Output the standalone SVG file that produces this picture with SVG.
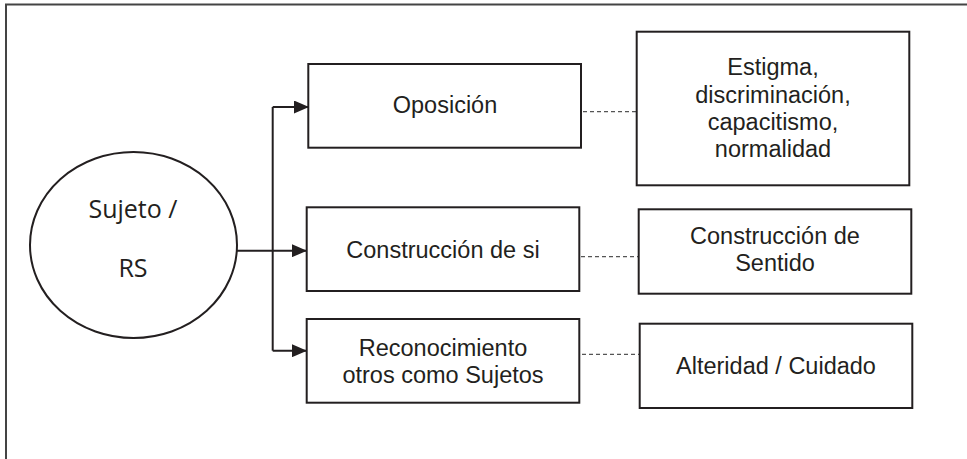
<svg xmlns="http://www.w3.org/2000/svg" width="967" height="459" viewBox="0 0 967 459">
<defs>
<style>
.box{fill:#fff;stroke:#231f20;stroke-width:2}
.t{font-family:"Liberation Sans",Arial,sans-serif;font-size:23.5px;fill:#231f20;text-anchor:middle}
.c{font-family:"Open Sans","Liberation Sans",sans-serif;font-size:25px;fill:#231f20;text-anchor:middle}
.ln{fill:none;stroke:#231f20;stroke-width:2}
.dash{fill:none;stroke:#555;stroke-width:1.2;stroke-dasharray:4 3}
</style>
<marker id="arr" markerWidth="15" markerHeight="13" viewBox="0 0 15 13" refX="15" refY="6.5" orient="auto" markerUnits="userSpaceOnUse">
<path d="M0,0 L15,6.5 L0,13 Z" fill="#231f20"/>
</marker>
</defs>
<rect width="967" height="459" fill="#fff"/>
<path d="M6,459 V4.5 H967" fill="none" stroke="#444" stroke-width="2"/>

<g id="connectors">
<path class="ln" d="M272.7,107 V350.7"/>
<path class="ln" d="M272.7,107 H309" marker-end="url(#arr)"/>
<path class="ln" d="M237,250.7 H307" marker-end="url(#arr)"/>
<path class="ln" d="M272.7,350.7 H307" marker-end="url(#arr)"/>
<path class="dash" d="M583,111.7 H637"/>
<path class="dash" d="M581,256.7 H638"/>
<path class="dash" d="M582,354.3 H639"/>
</g>

<g id="sujeto">
<ellipse cx="133.5" cy="245" rx="103.5" ry="93" fill="#fff" stroke="#231f20" stroke-width="2"/>
<text class="c" x="133" y="218">Sujeto /</text>
<text class="c" x="133" y="277">RS</text>
</g>

<g id="oposicion">
<rect class="box" x="308.3" y="64" width="272.7" height="83.7"/>
<text class="t" x="445" y="113">Oposición</text>
</g>

<g id="construccion-si">
<rect class="box" x="306.7" y="207.3" width="272.6" height="83.7"/>
<text class="t" x="443" y="258">Construcción de si</text>
</g>

<g id="reconocimiento">
<rect class="box" x="306.7" y="319" width="272.6" height="83.7"/>
<text class="t" x="443" y="355.5">Reconocimiento</text>
<text class="t" x="443" y="382.5">otros como Sujetos</text>
</g>

<g id="estigma">
<rect class="box" x="636.7" y="31.7" width="272.6" height="153.6"/>
<text class="t" x="773" y="75">Estigma,</text>
<text class="t" x="773" y="102.5">discriminación,</text>
<text class="t" x="773" y="130">capacitismo,</text>
<text class="t" x="773" y="157.3">normalidad</text>
</g>

<g id="sentido">
<rect class="box" x="638.7" y="209.3" width="272.6" height="84.4"/>
<text class="t" x="775" y="244">Construcción de</text>
<text class="t" x="775" y="271.3">Sentido</text>
</g>

<g id="alteridad">
<rect class="box" x="639.7" y="323.7" width="272.6" height="84.3"/>
<text class="t" x="776" y="374">Alteridad / Cuidado</text>
</g>
</svg>
